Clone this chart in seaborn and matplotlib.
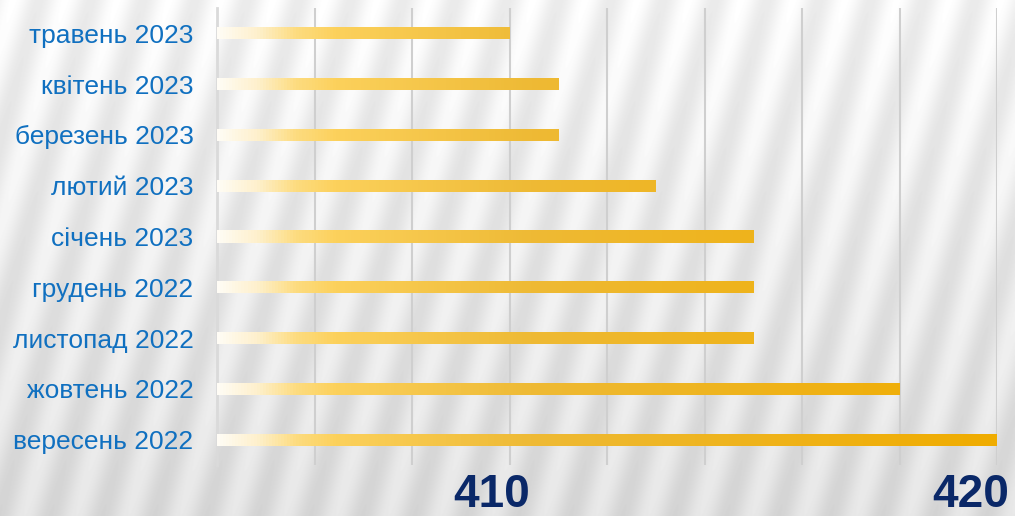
import numpy as np
import pandas as pd
import matplotlib
matplotlib.use('Agg')
import matplotlib.pyplot as plt
import matplotlib.transforms as mtransforms
from matplotlib.colors import LinearSegmentedColormap
import seaborn as sns

# Дані
months = ['травень 2023', 'квітень 2023', 'березень 2023', 'лютий 2023', 'січень 2023',
          'грудень 2022', 'листопад 2022', 'жовтень 2022', 'вересень 2022']
values = [410, 411, 411, 413, 415, 415, 415, 418, 420]
x_labels = [410, 420]

sns.set_style('white')
plt.rcParams['font.family'] = ['Liberation Sans', 'DejaVu Sans']

df = pd.DataFrame({'Місяць': months, 'Значення': values})

fig = plt.figure(figsize=(10.15, 5.16), dpi=100)

# Фон з діагональними смугами
bg = fig.add_axes([0, 0, 1, 1])
h, w = 516, 1015
yy, xx = np.mgrid[0:h, 0:w]
base = 0.96 - 0.09 * (yy / h)
stripes = 0.04 * np.sin(2 * np.pi * (xx + 0.28 * yy) / 52)
img = np.clip(base + stripes, 0, 1)
bg.imshow(img, cmap='gray', vmin=0, vmax=1, aspect='auto', extent=[0, 1, 0, 1])
bg.axis('off')

ax = fig.add_axes([217 / 1015, 1 - 465 / 516, (997 - 217) / 1015, (465 - 8) / 516])
ax.patch.set_alpha(0)

sns.barplot(data=df, x='Значення', y='Місяць', orient='h', ax=ax, width=0.24, color='#F0AC00')

# Градієнт на стовпчиках
cmap = LinearSegmentedColormap.from_list('gold', [
    (0.0, '#FFFCF5'), (0.05, '#FEF0CC'), (0.1, '#FDDC80'),
    (0.15, '#FCD15C'), (0.4, '#EEBA35'), (1.0, '#F0AC00')])
grad = np.linspace(0, 1, 256).reshape(1, -1)
for p in ax.patches:
    y0, hg = p.get_y(), p.get_height()
    im = ax.imshow(grad, cmap=cmap, extent=[404, 420, y0 + hg, y0], aspect='auto', zorder=3)
    im.set_clip_path(p)
    p.set_facecolor('none')
    p.set_edgecolor('none')

ax.set_xlim(404, 420)
ax.set_ylim(8.5, -0.5)
ax.set_xlabel('')
ax.set_ylabel('')

ax.set_xticks(x_labels)
ax.set_xticks(np.arange(404, 421, 2), minor=True)
ax.grid(False)
ax.grid(True, which='both', axis='x', color='#CFCFCF', linewidth=1.5)
ax.set_axisbelow(True)

for s in ['top', 'right', 'bottom']:
    ax.spines[s].set_visible(False)
ax.spines['left'].set_color('#DADADA')
ax.spines['left'].set_linewidth(2)

ax.tick_params(axis='y', length=0, pad=17, labelsize=19, labelcolor='#1070C0')
ax.tick_params(axis='x', which='both', length=0, pad=6, labelsize=33, labelcolor='#0A2868')
for lbl in ax.get_xticklabels():
    lbl.set_fontweight('bold')

offsets = [-18, -26]
for lbl, off in zip(ax.get_xticklabels(), offsets):
    lbl.set_transform(lbl.get_transform() + mtransforms.ScaledTranslation(off / 100, 0, fig.dpi_scale_trans))

fig.savefig('out.png', dpi=100)
